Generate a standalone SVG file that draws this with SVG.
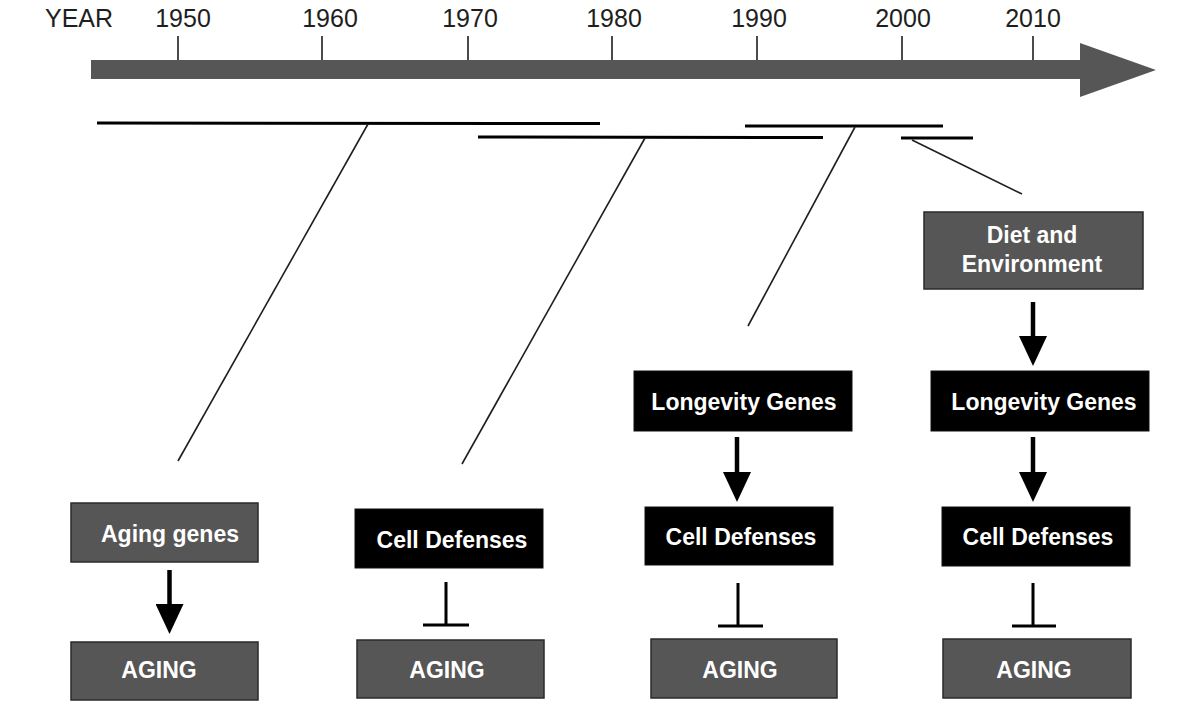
<svg xmlns="http://www.w3.org/2000/svg" width="1200" height="721" viewBox="0 0 1200 721">
<style>
.yr{font-family:"Liberation Sans",Arial,sans-serif;font-size:25px;fill:#1e1e1e;text-anchor:middle}
.lbl{font-family:"Liberation Sans",Arial,sans-serif;font-size:23px;font-weight:bold;fill:#fff;text-anchor:middle}
.gray{fill:#565656;stroke:#2a2a2a;stroke-width:1.5}
.blk{fill:#000;stroke:#111;stroke-width:1}
.tick{stroke:#1e1e1e;stroke-width:1.6}
.range{stroke:#000;stroke-width:3;fill:none}
.lead{stroke:#1e1e1e;stroke-width:1.6;fill:none}
.shaft{stroke:#000;stroke-width:4.5;fill:none}
.inh{stroke:#000;stroke-width:3;fill:none}
</style>
<defs>
<marker id="ah" viewBox="0 0 30 28" refX="0" refY="14" markerWidth="30" markerHeight="28" orient="auto" markerUnits="userSpaceOnUse">
<path d="M0,0 L30,14 L0,28 z" fill="#000"/>
</marker>
</defs>
<rect width="1200" height="721" fill="#fff"/>

<g id="timeline">
<rect x="91" y="60" width="990" height="19" fill="#565656"/>
<polygon points="1080,43 1156,70 1080,97" fill="#565656"/>
<text class="yr" x="79" y="27">YEAR</text>
<g>
<line class="tick" x1="178" y1="36" x2="178" y2="60"/>
<line class="tick" x1="322" y1="36" x2="322" y2="60"/>
<line class="tick" x1="468" y1="36" x2="468" y2="60"/>
<line class="tick" x1="612" y1="36" x2="612" y2="60"/>
<line class="tick" x1="757" y1="36" x2="757" y2="60"/>
<line class="tick" x1="902" y1="36" x2="902" y2="60"/>
<line class="tick" x1="1033" y1="36" x2="1033" y2="60"/>
</g>
<text class="yr" x="183" y="27">1950</text>
<text class="yr" x="330" y="27">1960</text>
<text class="yr" x="470" y="27">1970</text>
<text class="yr" x="614" y="27">1980</text>
<text class="yr" x="759" y="27">1990</text>
<text class="yr" x="903" y="27">2000</text>
<text class="yr" x="1033" y="27">2010</text>
</g>

<g id="ranges">
<line class="range" x1="97" y1="123" x2="600" y2="123.5"/>
<line class="range" x1="478" y1="137" x2="823" y2="137.5"/>
<line class="range" x1="745" y1="126" x2="943" y2="126"/>
<line class="range" x1="901" y1="138" x2="973" y2="138"/>
</g>

<g id="connectors">
<line class="lead" x1="368" y1="124" x2="178" y2="461"/>
<line class="lead" x1="645" y1="138" x2="462" y2="464"/>
<line class="lead" x1="855" y1="127" x2="748" y2="326"/>
<line class="lead" x1="912" y1="140" x2="1022" y2="194"/>
<line class="shaft" x1="169.5" y1="570" x2="169.5" y2="604" marker-end="url(#ah)"/>
<line class="shaft" x1="737" y1="437" x2="737" y2="472" marker-end="url(#ah)"/>
<line class="shaft" x1="1033" y1="302" x2="1033" y2="336" marker-end="url(#ah)"/>
<line class="shaft" x1="1033" y1="437" x2="1033" y2="472" marker-end="url(#ah)"/>
<path class="inh" d="M446,582 V625 M423,625 H469"/>
<path class="inh" d="M738,583 V626 M718,626 H763"/>
<path class="inh" d="M1033,583 V626 M1012,626 H1056"/>
</g>

<g id="agingGenes">
<rect class="gray" x="71" y="503" width="187" height="59"/>
<text class="lbl" x="170" y="542">Aging genes</text>
</g>
<g id="aging1">
<rect class="gray" x="71" y="642" width="187" height="58"/>
<text class="lbl" x="159" y="678">AGING</text>
</g>

<g id="cellDef1">
<rect class="blk" x="355" y="509" width="188" height="59"/>
<text class="lbl" x="452" y="548">Cell Defenses</text>
</g>
<g id="aging2">
<rect class="gray" x="357" y="640" width="187" height="58"/>
<text class="lbl" x="447" y="678">AGING</text>
</g>

<g id="longevity1">
<rect class="blk" x="634" y="371" width="218" height="60"/>
<text class="lbl" x="744" y="410">Longevity Genes</text>
</g>
<g id="cellDef2">
<rect class="blk" x="645" y="507" width="188" height="58"/>
<text class="lbl" x="741" y="545">Cell Defenses</text>
</g>
<g id="aging3">
<rect class="gray" x="651" y="639" width="186" height="59"/>
<text class="lbl" x="740" y="678">AGING</text>
</g>

<g id="diet">
<rect class="gray" x="924" y="212" width="219" height="77"/>
<text class="lbl" x="1032" y="243">Diet and</text>
<text class="lbl" x="1032" y="272">Environment</text>
</g>
<g id="longevity2">
<rect class="blk" x="931" y="371" width="218" height="60"/>
<text class="lbl" x="1044" y="410">Longevity Genes</text>
</g>
<g id="cellDef3">
<rect class="blk" x="942" y="507" width="188" height="59"/>
<text class="lbl" x="1038" y="545">Cell Defenses</text>
</g>
<g id="aging4">
<rect class="gray" x="943" y="639" width="188" height="59"/>
<text class="lbl" x="1034" y="678">AGING</text>
</g>
</svg>
